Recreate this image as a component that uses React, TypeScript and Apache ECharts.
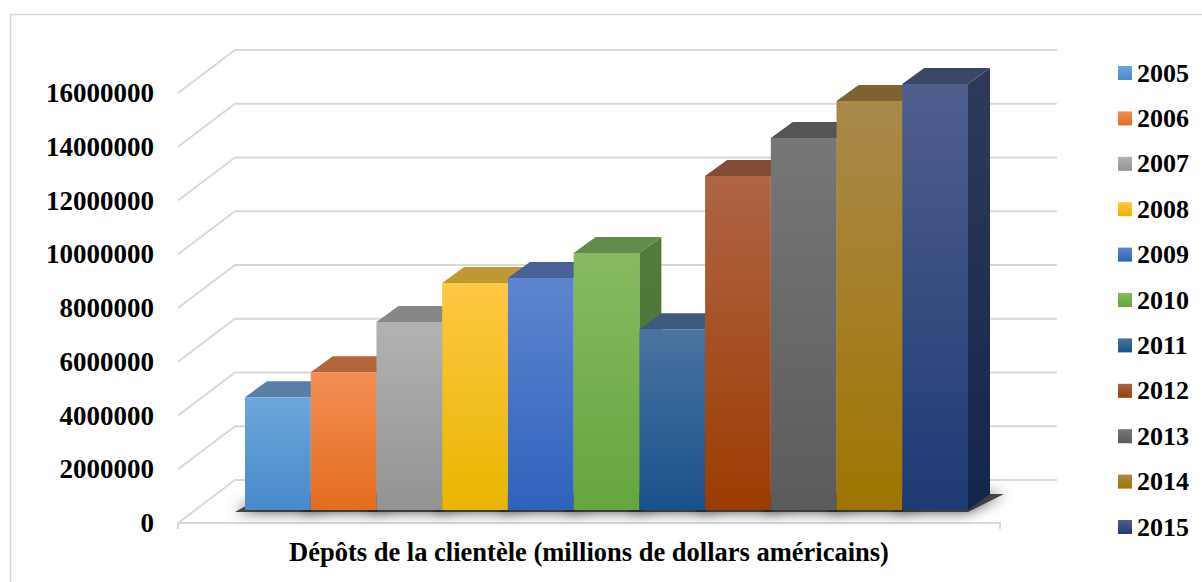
import React, { useEffect, useRef } from "react";
import * as echarts from "echarts";

const years = ["2005", "2006", "2007", "2008", "2009", "2010", "2011", "2012", "2013", "2014", "2015"];
const deposits = [4200000, 5130000, 7000000, 8450000, 8630000, 9560000, 6730000, 12430000, 13840000, 15220000, 15850000];
const yTicks = [0, 2000000, 4000000, 6000000, 8000000, 10000000, 12000000, 14000000, 16000000];
const axisTitle = "Dépôts de la clientèle (millions de dollars américains)";

const frontTop = ["#6da7dc", "#f28f55", "#b2b2b2", "#ffc743", "#5e85cf", "#86ba62", "#4b73a0", "#af6445", "#777777", "#a9894b", "#505f8c"];
const frontBottom = ["#4889c9", "#e36c1e", "#939393", "#e8b600", "#2f62bd", "#65a63c", "#18528a", "#9c3c02", "#5b5b5b", "#9f7500", "#1d3a75"];
const topColors = ["#5a7ea6", "#b3653c", "#878787", "#c09832", "#4a6197", "#628b4c", "#3e5a7e", "#814b35", "#555555", "#7e6233", "#3a4766"];
const sideTop = ["#3f6e9e", "#a5582a", "#7a7a7a", "#b08a20", "#36559a", "#527a3c", "#2d4f78", "#6e3a22", "#484848", "#6e5525", "#2e3a58"];
const sideBottom = ["#30588a", "#8f4510", "#666666", "#a07c00", "#254a94", "#4b7233", "#173f6a", "#6a2a02", "#3d3d3d", "#6a5000", "#14254c"];

const FONT = "'Liberation Serif', 'Times New Roman', serif";
const GRID_DX = 57;
const GRID_DY = 43;
const BAR_DX = 22;
const BAR_DY = 16;
const GRID_LINE = "#d9d9d9";

const vgrad = (a: string, b: string) =>
  new echarts.graphic.LinearGradient(0, 0, 0, 1, [
    { offset: 0, color: a },
    { offset: 1, color: b },
  ]);

export default function App() {
  const ref = useRef<HTMLDivElement>(null);

  useEffect(() => {
    if (!ref.current) return;
    const chart = echarts.init(ref.current, undefined, { renderer: "svg" });

    const makeBar = (i: number) => (params: any, api: any) => {
      const base = api.coord([i, 0]);
      const topP = api.coord([i, api.value(1)]);
      const w = api.size([1, 0])[0];
      const x0 = base[0] - w / 2;
      const x1 = base[0] + w / 2;
      const yb = base[1];
      const yt = topP[1];
      return {
        type: "group",
        children: [
          {
            type: "polygon",
            z2: i * 3,
            shape: { points: [[x1, yt], [x1 + BAR_DX, yt - BAR_DY], [x1 + BAR_DX, yb - BAR_DY], [x1, yb]] },
            style: { fill: vgrad(sideTop[i], sideBottom[i]) },
          },
          {
            type: "polygon",
            z2: i * 3 + 1,
            shape: { points: [[x0, yt], [x1, yt], [x1 + BAR_DX, yt - BAR_DY], [x0 + BAR_DX, yt - BAR_DY]] },
            style: { fill: topColors[i] },
          },
          {
            type: "rect",
            z2: i * 3 + 2,
            shape: { x: x0, y: yt, width: w, height: yb - yt },
            style: { fill: vgrad(frontTop[i], frontBottom[i]) },
          },
        ],
      };
    };

    const shadowItem = (params: any, api: any) => {
      const idx = params.dataIndex;
      const base = api.coord([idx, 0]);
      const w = api.size([1, 0])[0];
      const x0 = base[0] - w / 2;
      const x1 = base[0] + w / 2;
      const yb = base[1];
      return {
        type: "polygon",
        shape: { points: [[x0 - 10, yb + 2], [x1, yb + 2], [x1 + BAR_DX + 14, yb - BAR_DY], [x0 + BAR_DX, yb - BAR_DY]] },
        style: {
          fill: "rgba(40,40,40,0.85)",
          shadowBlur: 14,
          shadowColor: "rgba(0,0,0,0.8)",
        },
      };
    };

    const barSeries = years.map((yr, i) => ({
      name: yr,
      type: "custom",
      xAxisIndex: 1,
      yAxisIndex: 1,
      z: 3,
      silent: true,
      itemStyle: { color: vgrad(frontTop[i], frontBottom[i]) },
      data: [[i, deposits[i]]],
      renderItem: makeBar(i),
    }));

    const option: any = {
      animation: false,
      backgroundColor: "#ffffff",
      graphic: [
        {
          type: "rect",
          left: 8,
          top: 12,
          shape: { x: 0, y: 0, width: 1300, height: 700 },
          style: { fill: "none", stroke: GRID_LINE, lineWidth: 1.5 },
          silent: true,
          z: 0,
        },
      ],
      legend: {
        orient: "vertical",
        left: 1113,
        top: 55,
        itemWidth: 14,
        itemHeight: 14,
        itemGap: 19.4,
        icon: "rect",
        selectedMode: false,
        data: years,
        textStyle: { fontSize: 26, fontWeight: "bold", fontFamily: FONT, color: "#000", lineHeight: 26 },
      },
      grid: [
        { left: 178, top: 93, width: 822, height: 430 },
        { left: 245, top: 80, width: 723, height: 430 },
      ],
      xAxis: [
        {
          gridIndex: 0,
          type: "category",
          data: [""],
          boundaryGap: true,
          axisLine: { lineStyle: { color: GRID_LINE, width: 2 } },
          axisTick: { show: true, length: 6, lineStyle: { color: GRID_LINE, width: 2 } },
          axisLabel: { show: false },
          splitLine: { show: false },
          name: axisTitle,
          nameLocation: "middle",
          nameGap: 15,
          nameTextStyle: { fontSize: 26.5, fontWeight: "bold", fontFamily: FONT, color: "#000" },
        },
        { gridIndex: 1, type: "category", data: years, show: false, boundaryGap: true },
      ],
      yAxis: [
        {
          gridIndex: 0,
          type: "value",
          min: 0,
          max: 16000000,
          interval: 2000000,
          axisLine: { show: false },
          axisTick: { show: false },
          splitLine: { show: false },
          axisLabel: {
            margin: 24,
            fontSize: 27,
            fontWeight: "bold",
            fontFamily: FONT,
            color: "#000",
            formatter: (v: number) => String(v),
          },
        },
        { gridIndex: 1, type: "value", min: 0, max: 16000000, show: false, splitLine: { show: false } },
      ],
      series: [
        {
          type: "custom",
          name: "grid",
          xAxisIndex: 0,
          yAxisIndex: 0,
          silent: true,
          z: 1,
          data: yTicks.map((v) => [0, v]),
          renderItem: (params: any, api: any) => {
            const cs = params.coordSys;
            const y = api.coord([0, api.value(1)])[1];
            return {
              type: "polyline",
              shape: {
                points: [
                  [cs.x, y],
                  [cs.x + GRID_DX, y - GRID_DY],
                  [cs.x + cs.width + GRID_DX, y - GRID_DY],
                ],
              },
              style: { stroke: GRID_LINE, lineWidth: 2, fill: null },
            };
          },
        },
        {
          type: "custom",
          name: "shadow",
          xAxisIndex: 1,
          yAxisIndex: 1,
          silent: true,
          z: 2,
          data: years.map((yr, i) => [i, deposits[i]]),
          renderItem: shadowItem,
        },
        ...barSeries,
      ],
    };

    chart.setOption(option);
    return () => chart.dispose();
  }, []);

  return (
    <div
      ref={ref}
      style={{ position: "fixed", left: 0, top: 0, width: 1202, height: 582, background: "#fff" }}
    />
  );
}
